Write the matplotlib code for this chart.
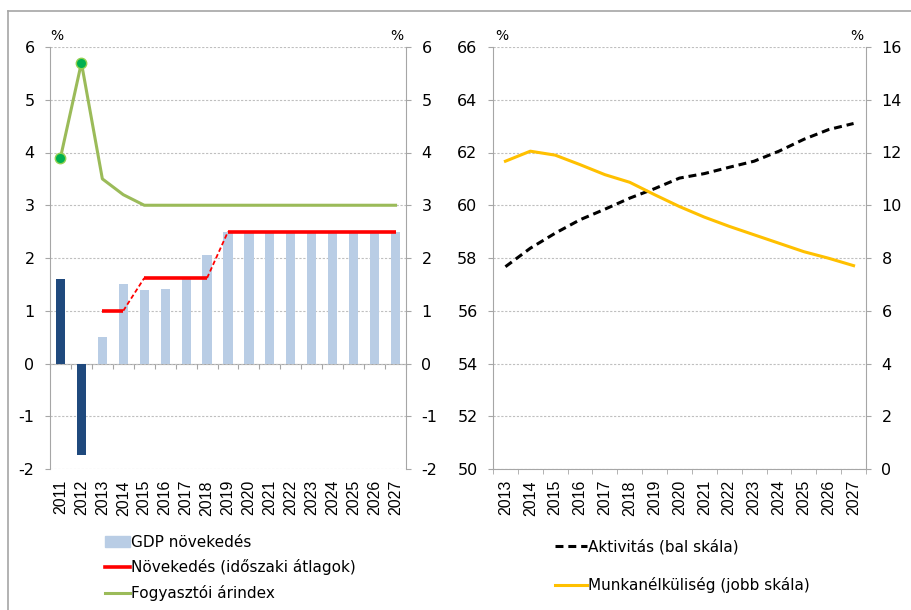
import numpy as np
import matplotlib
matplotlib.use("Agg")
import matplotlib.pyplot as plt
from matplotlib.lines import Line2D
from matplotlib.patches import Patch

plt.rcParams['font.family'] = ['DejaVu Sans']
plt.rcParams['axes.unicode_minus'] = False

# ---- left panel data ----
years_l = [str(y) for y in range(2011, 2028)]
gdp = [1.6, -1.73, 0.5, 1.5, 1.4, 1.42, 1.6, 2.06, 2.5, 2.5, 2.5, 2.5, 2.5, 2.5, 2.5, 2.5, 2.5]
gdp_actual = 2  # first two bars are actual data (dark)
avg_years = [2013, 2014, 2015, 2016, 2017, 2018, 2019, 2020, 2021, 2022, 2023, 2024, 2025, 2026, 2027]
avg_growth = [1.0, 1.0, 1.62, 1.62, 1.62, 1.62, 2.5, 2.5, 2.5, 2.5, 2.5, 2.5, 2.5, 2.5, 2.5]
cpi = [3.9, 5.7, 3.5, 3.2, 3.0, 3.0, 3.0, 3.0, 3.0, 3.0, 3.0, 3.0, 3.0, 3.0, 3.0, 3.0, 3.0]

# ---- right panel data ----
years_r = [str(y) for y in range(2013, 2028)]
activity = [57.67, 58.37, 58.94, 59.45, 59.85, 60.27, 60.63, 61.03, 61.2, 61.44,
            61.67, 62.05, 62.5, 62.87, 63.1]
unemp = [11.67, 12.05, 11.9, 11.54, 11.16, 10.87, 10.4, 9.95, 9.55, 9.2,
         8.88, 8.56, 8.24, 7.99, 7.71]

GRID = '#BFBFBF'
AXC = '#A6A6A6'
LIGHT = '#B9CDE5'
DARK = '#1F497D'
RED = '#FF0000'
GREEN = '#9BBB59'
YEAR_FONT = dict(family='Liberation Sans', size=11.5)

fig = plt.figure(figsize=(9.11, 6.10), dpi=100)

# outer frame (top and left edges only visible)
fig.add_artist(Line2D([8 / 911, 1], [1 - 11 / 610] * 2, color=AXC, lw=1.2))
fig.add_artist(Line2D([8 / 911] * 2, [0, 1 - 11 / 610], color=AXC, lw=1.2))


def style_axis(ax, twin, fs=11.5):
    for a in (ax, twin):
        for s in a.spines.values():
            s.set_visible(False)
    ax.spines['left'].set_visible(True)
    ax.spines['left'].set_color(AXC)
    twin.spines['right'].set_visible(True)
    twin.spines['right'].set_color(AXC)
    ax.tick_params(axis='y', direction='out', length=3.6, color=AXC, labelsize=fs, pad=7.5)
    twin.tick_params(axis='y', direction='out', length=3.6, color=AXC, labelsize=fs, pad=7.5)
    ax.yaxis.grid(True, color=GRID, linestyle=(0, (2, 1.5)), lw=0.8)
    ax.set_axisbelow(True)


def pct(xpix):
    fig.text(xpix / 911, 1 - 36 / 610, '%', ha='center', va='center', fontsize=10)


# ================= left panel =================
ax1 = fig.add_axes([50 / 911, 1 - 469 / 610, 356 / 911, 422 / 610])
tw1 = ax1.twinx()
n = len(years_l)
x = np.arange(n)
cols = [DARK] * gdp_actual + [LIGHT] * (n - gdp_actual)
ax1.bar(x, gdp, width=0.44, color=cols, zorder=2)

# average growth: solid within periods, dashed between periods
xa = np.array(avg_years) - 2011
ga = np.array(avg_growth)
for i in range(len(xa) - 1):
    ls = '-' if ga[i] == ga[i + 1] else (0, (2.5, 1.5))
    lw = 2.6 if ls == '-' else 1.3
    ax1.plot(xa[i:i + 2], ga[i:i + 2], color=RED, lw=lw, ls=ls, zorder=3,
             solid_capstyle='butt')

ax1.plot(x, cpi, color=GREEN, lw=2.2, zorder=4)
ax1.plot(x[:2], cpi[:2], ls='none', marker='o', ms=7.5, mfc='#00B050',
         mec='#92D050', mew=1, zorder=5)

ax1.set_xlim(-0.5, n - 0.5)
ax1.set_ylim(-2, 6)
tw1.set_ylim(-2, 6)
ax1.set_yticks(range(-2, 7))
tw1.set_yticks(range(-2, 7))
style_axis(ax1, tw1)
ax1.set_xticks(x)
ax1.set_xticklabels(years_l, rotation=90, fontdict=YEAR_FONT)
ax1.tick_params(axis='x', length=0, pad=8)
# category axis crossing at zero
sec1 = ax1.secondary_xaxis(0.25)
sec1.set_xticks(np.arange(n + 1) - 0.5)
sec1.set_xticklabels([])
sec1.tick_params(axis='x', direction='out', length=3.6, color=AXC)
sec1.spines['bottom'].set_color(AXC)
pct(57)
pct(397)

h1 = [Patch(color=LIGHT),
      Line2D([], [], color=RED, lw=2.6),
      Line2D([], [], color=GREEN, lw=2.2)]
fig.legend(h1, ['GDP növekedés', 'Növekedés (időszaki átlagok)', 'Fogyasztói árindex'],
           loc='upper left', bbox_to_anchor=(105 / 911, 1 - 535 / 610), frameon=False,
           fontsize=11, handlelength=1.65, handletextpad=0.08, labelspacing=0.62,
           borderaxespad=0, borderpad=0)

# ================= right panel =================
ax2 = fig.add_axes([493 / 911, 1 - 469 / 610, 373 / 911, 422 / 610])
tw2 = ax2.twinx()
m = len(years_r)
xr = np.arange(m)
dash = (0, (2.6, 1.6))
ax2.plot(xr, activity, color='black', lw=2.2, ls=dash, zorder=3)
tw2.plot(xr, unemp, color='#FFC000', lw=2.2, zorder=3)
ax2.set_xlim(-0.5, m - 0.5)
ax2.set_ylim(50, 66)
tw2.set_ylim(0, 16)
ax2.set_yticks(range(50, 67, 2))
tw2.set_yticks(range(0, 17, 2))
style_axis(ax2, tw2)
ax2.spines['bottom'].set_visible(True)
ax2.spines['bottom'].set_color(AXC)
ax2.set_xticks(xr)
ax2.set_xticklabels(years_r, rotation=90, fontdict=YEAR_FONT)
ax2.tick_params(axis='x', length=0, pad=8)
ax2.set_xticks(np.arange(m + 1) - 0.5, minor=True)
ax2.tick_params(axis='x', which='minor', direction='out', length=3.6, color=AXC)
pct(502)
pct(857)

h2 = [Line2D([], [], color='black', lw=2.2, ls=dash),
      Line2D([], [], color='#FFC000', lw=2.2)]
fig.legend(h2, ['Aktivitás (bal skála)', 'Munkanélküliség (jobb skála)'],
           loc='upper left', bbox_to_anchor=(555 / 911, 1 - 539 / 610), frameon=False,
           fontsize=11, handlelength=2.1, handletextpad=0.08, labelspacing=1.5,
           borderaxespad=0, borderpad=0)

fig.savefig('out.png', dpi=100)
